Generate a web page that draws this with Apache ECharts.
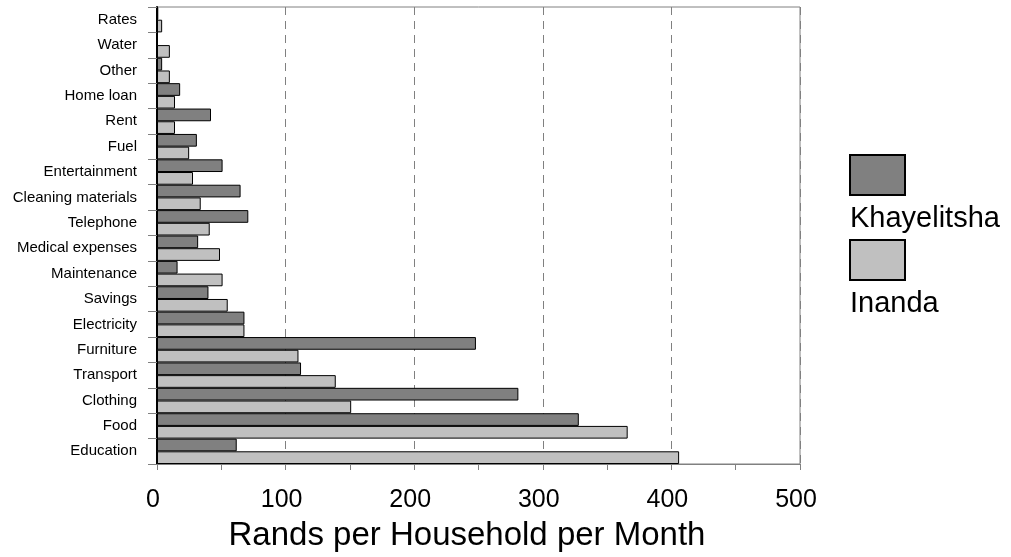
<!DOCTYPE html>
<html>
<head>
<meta charset="utf-8">
<script src="https://cdn.jsdelivr.net/npm/echarts@6/dist/echarts.min.js"></script>
<style>
html, body { margin: 0; padding: 0; background: #fff; }
#main { width: 1011px; height: 557px; }
</style>
</head>
<body>
<div id="main"></div>
<script>
// categories top to bottom
var categories = ['Rates', 'Water', 'Other', 'Home loan', 'Rent', 'Fuel', 'Entertainment',
	'Cleaning materials', 'Telephone', 'Medical expenses', 'Maintenance', 'Savings',
	'Electricity', 'Furniture', 'Transport', 'Clothing', 'Food', 'Education'];
var khayelitsha = [1, 0, 4, 18, 42, 31, 51, 65, 71, 32, 16, 40, 68, 248, 112, 281, 328, 62];
var inanda = [4, 10, 10, 14, 14, 25, 28, 34, 41, 49, 51, 55, 68, 110, 139, 151, 366, 406];
var seriesNames = ['Khayelitsha', 'Inanda'];

var myChart = echarts.init(document.getElementById('main'));
var font = 'Liberation Sans, Arial, sans-serif';
var option = {
	animation: false,
	textStyle: { fontFamily: font },
	grid: {
		left: 157, right: 211, top: 7, bottom: 91,
		show: true,
		borderColor: '#808080',
		borderWidth: 1
	},
	legend: [{
		// icons only
		orient: 'vertical',
		left: 849,
		top: 154,
		padding: 0,
		itemWidth: 55,
		itemHeight: 40,
		itemGap: 43,
		icon: 'rect',
		data: seriesNames,
		formatter: function () { return ''; },
		selectedMode: false
	}, {
		// text only, under each icon
		orient: 'vertical',
		left: 844,
		top: 198,
		padding: 0,
		itemWidth: 0,
		itemHeight: 40,
		itemGap: 43,
		icon: 'rect',
		itemStyle: { opacity: 0 },
		data: seriesNames,
		selectedMode: false,
		textStyle: { fontSize: 29, color: '#000', fontFamily: font }
	}],
	xAxis: {
		type: 'value',
		min: 0,
		max: 500,
		interval: 100,
		name: 'Rands per Household per Month',
		nameLocation: 'middle',
		nameGap: 55,
		nameTextStyle: { fontSize: 33, color: '#000', fontFamily: font, padding: [0, 23, 0, 0] },
		axisLine: { show: true, lineStyle: { color: '#808080', width: 1 } },
		axisTick: { show: true, length: 6, lineStyle: { color: '#808080' } },
		minorTick: { show: true, splitNumber: 2, length: 6, lineStyle: { color: '#808080' } },
		axisLabel: { fontSize: 25, color: '#000', margin: 24, fontFamily: font, padding: [0, 8, 0, 0] },
		splitLine: {
			show: true,
			lineStyle: { color: '#808080', type: [8, 6], width: 1 }
		}
	},
	yAxis: {
		type: 'category',
		inverse: true,
		data: categories,
		axisLine: { show: true, lineStyle: { color: '#000', width: 2 } },
		axisTick: { show: true, length: 9, lineStyle: { color: '#808080' } },
		axisLabel: { fontSize: 15, color: '#000', margin: 20, fontFamily: font },
		splitLine: { show: false }
	},
	series: [{
		name: seriesNames[0],
		type: 'bar',
		data: khayelitsha,
		barGap: '0%',
		barCategoryGap: '0%',
		itemStyle: { color: '#808080', borderColor: '#000', borderWidth: 1 }
	}, {
		name: seriesNames[1],
		type: 'bar',
		data: inanda,
		barGap: '0%',
		barCategoryGap: '0%',
		itemStyle: { color: '#c0c0c0', borderColor: '#000', borderWidth: 1 }
	}]
};
myChart.setOption(option);
</script>
</body>
</html>
